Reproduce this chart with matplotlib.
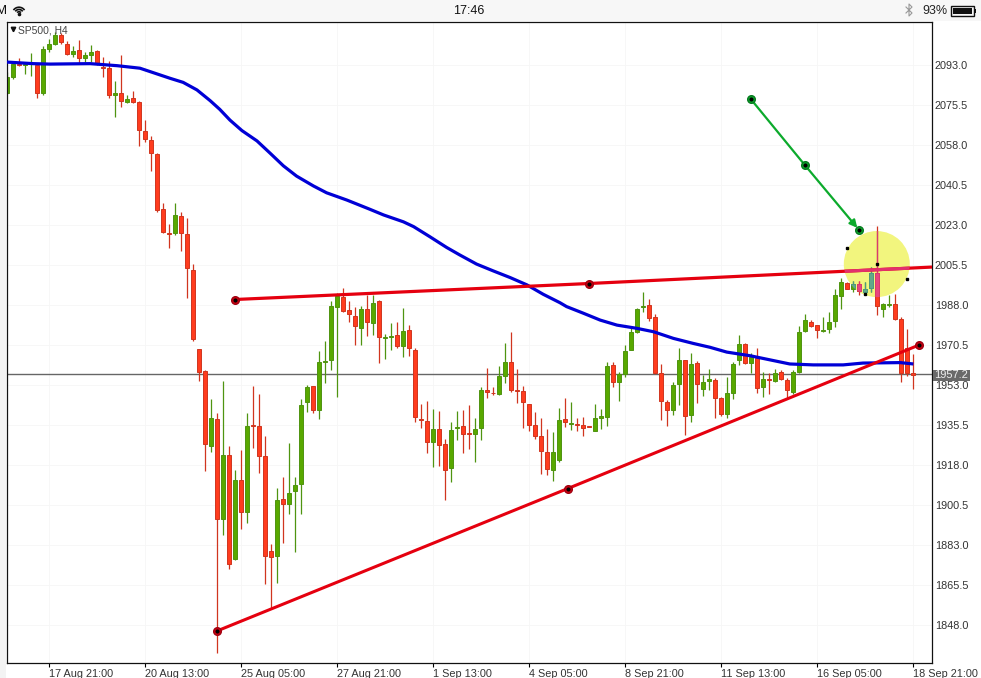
#this program redraws the SP500 H4 candle chart with its trend lines
import matplotlib
matplotlib.use('Agg')
import numpy as np
import matplotlib.pyplot as plt
from matplotlib.patches import Ellipse, Arc, Rectangle

opens = [2080.6,2087.9,2093.3,2093.0,2093.4,2093.0,2080.9,2100.1,2102.2,2106.1,
         2102.4,2097.9,2099.4,2096.2,2097.2,2099.1,2092.0,2091.5,2080.0,2080.6,
         2077.0,2078.4,2076.7,2064.0,2060.0,2053.9,2029.9,2019.5,2019.7,2026.8,
         2018.9,2003.2,1968.6,1959.1,1926.4,1938.0,1894.5,1922.2,1877.0,1911.3,
         1897.3,1935.5,1934.9,1921.8,1880.2,1878.0,1903.0,1900.8,1906.5,1909.5,
         1945.7,1952.4,1941.9,1963.2,1964.1,1987.3,1991.3,1985.7,1983.3,1978.1,
         1986.1,1980.3,1989.6,1973.6,1974.1,1974.7,1970.2,1976.9,1968.2,1938.0,
         1937.1,1928.2,1933.6,1927.0,1916.9,1934.0,1935.0,1931.9,1931.4,1934.3,
         1950.7,1949.7,1949.2,1957.1,1962.9,1950.7,1950.2,1944.6,1935.4,1930.5,
         1923.5,1916.0,1920.3,1938.0,1936.1,1936.0,1935.4,1935.0,1933.0,1938.4,
         1939.2,1961.6,1954.5,1958.0,1968.5,1976.2,1987.0,1987.9,1982.6,1958.4,
         1945.4,1942.1,1953.3,1963.8,1940.0,1962.5,1951.4,1954.9,1955.0,1947.2,
         1940.5,1949.7,1964.1,1970.8,1962.8,1965.0,1952.3,1955.6,1954.9,1958.6,
         1955.2,1950.1,1958.7,1976.8,1980.7,1979.1,1976.6,1977.4,1980.9,1992.1,
         1997.8,1995.2,1997.0,1993.9,1995.3,2001.9,1986.4,1987.9,1988.3,1981.7,1969.0,1958.1]
closes = [2087.6,2093.3,2093.0,2093.3,2093.7,2080.9,2099.9,2102.0,2106.1,2103.2,
          2097.9,2099.1,2096.2,2097.4,2098.5,2093.7,2091.5,2080.0,2080.6,2077.4,
          2078.0,2077.0,2064.4,2060.5,2054.6,2029.6,2020.1,2019.1,2027.2,2019.7,
          2004.1,1973.0,1958.8,1927.0,1938.4,1894.2,1922.2,1874.8,1911.3,1897.3,
          1934.9,1935.1,1922.1,1878.3,1877.9,1902.5,1901.1,1905.6,1909.1,1944.1,
          1952.0,1941.9,1962.9,1963.5,1987.4,1992.1,1985.5,1983.9,1978.7,1986.1,
          1980.7,1988.7,1974.1,1973.9,1974.4,1970.2,1976.5,1969.0,1938.9,1937.6,
          1928.2,1933.6,1926.9,1916.0,1933.2,1934.5,1931.7,1931.4,1933.6,1950.7,
          1949.8,1949.4,1956.8,1962.9,1950.7,1950.2,1945.4,1935.4,1930.8,1924.3,
          1916.4,1923.5,1937.6,1936.7,1936.4,1935.5,1934.3,1934.5,1938.4,1939.3,
          1961.2,1954.2,1957.7,1967.8,1976.0,1986.1,1987.4,1982.5,1958.4,1946.2,
          1942.2,1952.9,1963.8,1939.6,1962.0,1953.6,1954.2,1955.5,1947.5,1940.5,
          1949.4,1962.0,1970.8,1962.8,1965.4,1951.9,1955.5,1955.0,1958.3,1955.8,
          1950.6,1958.6,1976.1,1981.3,1979.0,1977.2,1977.1,1980.4,1992.2,1997.9,
          1995.2,1997.0,1994.3,1994.9,2001.9,1987.7,1988.3,1988.3,1982.0,1958.4,1958.4,1957.2]
highs = [2090.1,2094.4,2095.9,2094.4,2098.4,2093.7,2101.3,2104.2,2107.6,2106.8,
         2103.6,2101.3,2103.9,2098.8,2101.6,2099.6,2096.6,2094.7,2086.0,2097.4,
         2079.9,2081.6,2077.2,2068.9,2061.9,2054.3,2032.8,2023.4,2032.8,2028.7,
         2025.9,2005.8,1968.6,1959.6,1946.9,1940.6,1954.8,1926.3,1915.8,1924.5,
         1940.6,1952.6,1949.0,1930.7,1883.3,1907.8,1912.9,1927.5,1912.6,1946.7,
         1953.0,1952.4,1967.9,1972.2,1989.6,1993.1,1995.3,1989.6,1987.0,1987.6,
         1992.4,1992.4,1990.2,1975.3,1980.0,1980.4,1986.5,1979.4,1969.0,1944.7,
         1946.0,1942.3,1941.6,1929.4,1936.8,1941.6,1942.1,1944.3,1938.6,1952.0,
         1960.3,1952.0,1961.3,1971.5,1976.0,1959.9,1952.4,1944.6,1941.0,1938.4,
         1933.6,1932.3,1942.9,1947.5,1945.6,1938.6,1939.0,1935.0,1944.6,1942.5,
         1963.1,1963.1,1958.6,1970.4,1977.8,1986.8,1993.5,1990.5,1984.1,1962.2,
         1946.4,1954.3,1969.0,1963.9,1966.9,1963.7,1957.4,1960.2,1956.0,1947.9,
         1956.7,1963.0,1974.8,1971.5,1966.9,1969.4,1958.6,1958.1,1959.9,1959.6,
         1956.0,1959.6,1979.0,1984.0,1981.4,1979.2,1982.9,1984.9,1994.9,1999.7,
         1997.9,1998.6,1998.5,1998.2,2004.5,2022.6,1989.0,1992.4,1992.8,1982.6,1977.4,1966.6]
lows = [2080.3,2086.9,2092.7,2089.1,2088.2,2078.7,2079.9,2098.8,2101.7,2102.2,
        2097.4,2096.3,2094.0,2094.4,2094.4,2093.0,2087.9,2078.7,2070.4,2074.8,
        2076.5,2076.5,2057.7,2059.4,2046.8,2028.8,2019.7,2013.1,2018.6,2011.8,
        1990.9,1972.2,1954.9,1915.5,1923.8,1835.6,1887.4,1872.3,1876.4,1889.9,
        1892.5,1925.6,1914.6,1865.8,1855.3,1866.2,1884.0,1896.6,1880.1,1896.6,
        1941.3,1940.9,1938.3,1954.0,1959.6,1947.9,1985.1,1980.7,1970.6,1970.6,
        1974.6,1974.9,1962.5,1964.4,1968.3,1969.3,1965.4,1965.8,1936.9,1934.0,
        1923.1,1917.3,1917.6,1902.7,1910.7,1929.0,1923.1,1925.2,1919.5,1929.0,
        1947.5,1948.6,1948.6,1954.0,1950.1,1945.3,1934.3,1932.8,1929.2,1914.1,
        1913.6,1911.2,1919.5,1934.8,1933.3,1932.9,1930.8,1934.5,1933.0,1933.9,
        1935.2,1952.3,1946.2,1956.7,1968.3,1975.6,1985.1,1981.1,1957.8,1937.7,
        1935.2,1939.9,1944.3,1931.2,1937.0,1945.3,1948.2,1950.8,1938.7,1939.6,
        1938.7,1946.9,1961.8,1962.2,1958.1,1949.4,1947.9,1949.1,1954.5,1955.2,
        1947.2,1949.1,1958.1,1976.1,1978.3,1973.7,1976.4,1975.9,1978.3,1986.4,
        1994.9,1993.7,1992.4,1992.4,1993.7,1983.6,1982.9,1987.0,1981.4,1954.5,1957.1,1951.3]

ma_bars = [-0.2,4.3,7.1,13.8,18.3,22.1,27.1,29.3,31.6,33.8,35.4,37.1,39.1,41.6,43.8,46.0,48.2,51.0,53.2,56.6,
           60.4,62.7,66.0,67.7,70.4,73.2,75.4,78.2,81.0,83.8,86.6,89.3,92.1,93.2,96.0,98.8,101.6,104.9,107.7,111.0,
           114.3,117.1,119.9,123.8,130.4,134.3,139.3,142.6,148.8,151]
ma_values = [2094.3,2093.6,2093.4,2093.6,2092.7,2091.6,2087.2,2085.4,2082.1,2077.4,2073.6,2068.9,2064.3,2059.8,2054.4,2048.9,2044.4,2040.1,2037.1,2033.9,
             2029.9,2027.4,2024.4,2022.3,2017.9,2013.2,2009.9,2005.9,2002.9,2000.0,1996.8,1992.7,1989.0,1987.3,1984.4,1981.4,1979.2,1977.8,1976.3,1973.4,
             1971.2,1969.5,1967.4,1965.8,1962.2,1961.8,1961.8,1962.6,1962.8,1962.2]

# trend lines: the anchor points, then where the resistance line leaves the chart
resistance_bars = [37.88, 96.9]
resistance_prices = [1990.4, 1997.4]
resistance_end = (154.1, 2004.6)
support_bars = [34.95, 93.4, 151.95]
support_prices = [1845.4, 1907.7, 1970.5]
arrow_bars = [123.9, 132.9, 141.95]
arrow_prices = [2078.1, 2049.25, 2020.8]

# highlight circle and the small handles around it
circle_center = (144.9, 2005.9)
circle_size = (11, 28.9)
handle_bars = [140.0, 144.9, 149.9, 143.0]
handle_prices = [2013.0, 2005.9, 1999.4, 1992.8]

last_price = 1957.2
last_price_line = 1957.7

y_ticks = [2093.0,2075.5,2058.0,2040.5,2023.0,2005.5,1988.0,1970.5,1953.0,1935.5,1918.0,1900.5,1883.0,1865.5,1848.0]
x_ticks = [7,23,39,55,71,87,103,119,135,151]
x_labels = ['17 Aug 21:00','20 Aug 13:00','25 Aug 05:00','27 Aug 21:00','1 Sep 13:00',
            '4 Sep 05:00','8 Sep 21:00','11 Sep 13:00','16 Sep 05:00','18 Sep 21:00']

W, H = 981, 678
plt.rcParams['font.family'] = ['Liberation Sans', 'DejaVu Sans']


def draw_candles(ax, up_col, up_edge, down_col, down_edge, zorder, clip=None):
    x = np.arange(len(opens))
    o, h, l, c = np.array(opens), np.array(highs), np.array(lows), np.array(closes)
    up = c >= o
    wicks = []
    bodies = []
    wicks.append(ax.vlines(x[up], l[up], h[up], color=up_edge, lw=0.9, zorder=zorder))
    wicks.append(ax.vlines(x[~up], l[~up], h[~up], color=down_edge, lw=0.9, zorder=zorder))
    bodies.extend(ax.bar(x[up], (c - o)[up], bottom=o[up], width=0.7, color=up_col,
                         edgecolor=up_edge, linewidth=0.7, zorder=zorder + 0.1))
    bodies.extend(ax.bar(x[~up], (c - o)[~up], bottom=o[~up], width=0.7, color=down_col,
                         edgecolor=down_edge, linewidth=0.7, zorder=zorder + 0.1))
    if clip is not None:
        for artist in wicks + bodies:
            artist.set_clip_path(clip)


fig = plt.figure(figsize=(W / 100, H / 100), dpi=100, facecolor='white')

# background strips and status bar, in pixel coordinates
bg = fig.add_axes([0, 0, 1, 1], zorder=0)
bg.set_xlim(0, W)
bg.set_ylim(H, 0)
bg.axis('off')
bg.add_patch(Rectangle((0, 0), W, 20.5, color='#f7f7f7', lw=0))
bg.add_patch(Rectangle((0, 20), 6, H - 20, color='#f3f3f3', lw=0))
bg.text(-4, 10.5, 'M', fontsize=9.5, color='#111111', va='center', ha='left')
for r in [3, 6, 9]:
    bg.add_patch(Arc((19, 14), r * 1.5, r * 1.5, theta1=215, theta2=325, color='#111111', lw=1.2))
bg.plot([19], [13.5], 'o', ms=1.6, color='#111111')
bg.text(469, 10.5, '17:46', fontsize=9, color='#111111', va='center', ha='center')
bg.plot([906, 912, 909, 909, 912, 906], [7, 13, 16, 4, 7, 13], color='#999999', lw=0.8)
bg.text(935, 10.5, '93%', fontsize=9, color='#222222', va='center', ha='center')
bg.add_patch(Rectangle((950.5, 5.5), 23, 10, fill=False, ec='#111111', lw=1))
bg.add_patch(Rectangle((952.5, 7.5), 19, 6, color='#111111', lw=0))
bg.add_patch(Rectangle((974.5, 8.5), 1.5, 4, color='#111111', lw=0))

left, right, top, bottom = 6.5, 932, 21.5, 663
ax = fig.add_axes([left / W, 1 - bottom / H, (right - left) / W, (bottom - top) / H], zorder=1)
ax.set_facecolor('none')
ax.set_xlim(-0.14, 154.1)
ax.set_ylim(2121.44 - 0.4375 * bottom, 2121.44 - 0.4375 * top)

ax.set_xticks(x_ticks)
ax.set_xticklabels(x_labels)
ax.set_yticks(y_ticks)
ax.set_yticklabels(['%.1f' % v for v in y_ticks])
ax.yaxis.tick_right()
ax.tick_params(axis='y', length=0, pad=2, labelsize=7.8, labelcolor='#333333')
ax.tick_params(axis='x', length=3, width=0.8, pad=1, labelsize=7.8, labelcolor='#333333')
for label in ax.get_xticklabels():
    label.set_horizontalalignment('left')
ax.grid(True, color='#f6f6f6', lw=0.6, zorder=0)
ax.set_axisbelow(True)
for spine in ax.spines.values():
    spine.set_linewidth(0.9)
    spine.set_color('#111111')

# yellow circle sits under the candles
circle = Ellipse(circle_center, circle_size[0], circle_size[1], color='#f2f57e', lw=0, zorder=1)
ax.add_patch(circle)

ax.axhline(last_price_line, color='#666666', lw=1, zorder=1.5)
draw_candles(ax, '#58a800', '#4f9410', '#ff3c1e', '#d0351f', 2)

# same candles again, tinted where the highlight covers them
draw_candles(ax, '#62a88a', '#4f9a80', '#e8467e', '#d83a70', 2.5, clip=circle)

ax.plot(ma_bars, ma_values, color='#0000d6', lw=2.3, zorder=3, solid_capstyle='butt', solid_joinstyle='round')

res_x = resistance_bars + [resistance_end[0]]
res_y = resistance_prices + [resistance_end[1]]
ax.plot(res_x, res_y, color='#e5000f', lw=2.3, zorder=4, solid_capstyle='butt')
res_tint, = ax.plot(res_x, res_y, color='#e2306c', lw=2.3, zorder=4.1, solid_capstyle='butt')
res_tint.set_clip_path(circle)
ax.plot(support_bars, support_prices, color='#e5000f', lw=2.2, zorder=4)
ax.plot(resistance_bars, resistance_prices, 'o', ms=5.5, color='#d4000f', mec='#a00010', zorder=5)
ax.plot(support_bars, support_prices, 'o', ms=5.5, color='#d4000f', mec='#a00010', zorder=5)
ax.plot(resistance_bars + support_bars, resistance_prices + support_prices, 'o', ms=2, color='black', zorder=6)

ax.plot(arrow_bars[:2], arrow_prices[:2], color='#0caa2c', lw=1.6, zorder=4)
ax.annotate('', xy=(arrow_bars[2], arrow_prices[2]), xytext=(arrow_bars[1], arrow_prices[1]),
            arrowprops=dict(arrowstyle='-|>', color='#0caa2c', lw=1.6, mutation_scale=11, shrinkA=0, shrinkB=2),
            zorder=4)
ax.plot(arrow_bars, arrow_prices, 'o', ms=5.5, color='#0caa2c', mec='#067a1f', zorder=5)
ax.plot(arrow_bars, arrow_prices, 'o', ms=2, color='black', zorder=6)

ax.plot(handle_bars, handle_prices, 's', ms=1.6, color='black', zorder=6)

# texts that sit on top of the chart
front = fig.add_axes([0, 0, 1, 1], zorder=2)
front.set_xlim(0, W)
front.set_ylim(H, 0)
front.axis('off')
front.text(18, 30.5, 'SP500, H4', fontsize=7.4, color='#444444', va='center', ha='left')
front.plot([12.5], [29], 'v', ms=3.2, color='#111111')
front.add_patch(Rectangle((933, 369.5), 37, 11.5, color='#6a6a6a', lw=0))
front.text(951.5, 375.5, '%.1f' % last_price, fontsize=8, color='#eeeeee', va='center', ha='center')

fig.savefig('out.png', dpi=100)
plt.close(fig)
